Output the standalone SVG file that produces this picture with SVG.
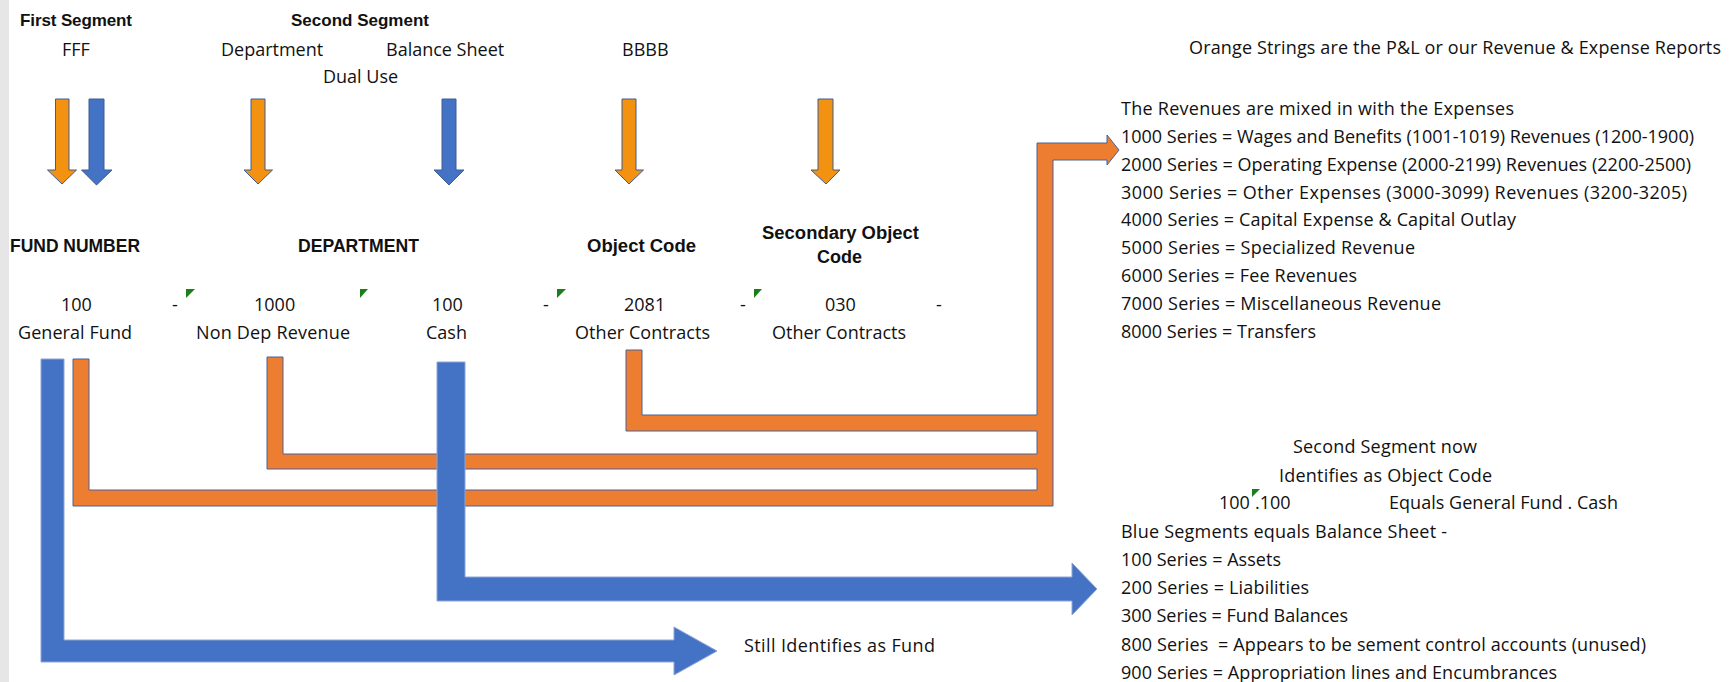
<svg xmlns="http://www.w3.org/2000/svg" width="1732" height="682" viewBox="0 0 1732 682">
  <style>
    .t { font-family: "Open Sans", "Liberation Sans", sans-serif; font-size: 18px; fill: #111; }
    .h { font-family: "Liberation Sans", Arial, sans-serif; font-weight: bold; font-size: 18px; fill: #111; }
    .hs { font-family: "Liberation Sans", Arial, sans-serif; font-weight: bold; font-size: 17px; fill: #111; }
    .pre { white-space: pre; }
    .down-o { fill: #F39110; stroke: #3F5C93; stroke-width: 1; }
    .down-b { fill: #4472C4; stroke: #3F5C93; stroke-width: 1; }
    .conn-o { fill: #ED7D31; stroke: #4A6394; stroke-width: 1; }
    .conn-b { fill: #4472C4; stroke: #8EA6D4; stroke-width: 1; }
    .flag { fill: #1A7F1A; }
  </style>

  <rect x="0" y="0" width="1732" height="682" fill="#ffffff"/>
  <rect x="0" y="0" width="9" height="682" fill="#e6e6e6"/>

  <!-- segment headings -->
  <g id="segment-headings">
    <text class="hs" x="20" y="26" textLength="112">First Segment</text>
    <text class="hs" x="291" y="26" textLength="138">Second Segment</text>
    <text class="t" x="62" y="56">FFF</text>
    <text class="t" x="221" y="56">Department</text>
    <text class="t" x="386" y="56">Balance Sheet</text>
    <text class="t" x="622" y="56">BBBB</text>
    <text class="t" x="323" y="83">Dual Use</text>
  </g>

  <!-- downward pointers -->
  <g id="pointers">
    <polygon class="down-o" points="55.5,99 69,99 69,170 76.5,170 62,184 47.5,170 55.5,170"/>
    <polygon class="down-b" points="89,99 104,99 104,170 112,170 96.5,185 81.5,170 89,170"/>
    <polygon class="down-o" points="251,99 265,99 265,170 272.5,170 258,184 244,170 251,170"/>
    <polygon class="down-b" points="442,99 456,99 456,170 464,170 449,185 434,170 442,170"/>
    <polygon class="down-o" points="622,99 636,99 636,170 643.5,170 629,184 615,170 622,170"/>
    <polygon class="down-o" points="818,99 833,99 833,170 840,170 826,184 811,170 818,170"/>
  </g>

  <!-- account string segments -->
  <g id="fund-number">
    <text class="h" x="10" y="252" textLength="130" lengthAdjust="spacingAndGlyphs">FUND NUMBER</text>
    <text class="t" x="61" y="311">100</text>
    <text class="t" x="18" y="339" textLength="114">General Fund</text>
  </g>
  <g id="department">
    <text class="h" x="298" y="252" textLength="121" lengthAdjust="spacingAndGlyphs">DEPARTMENT</text>
    <text class="t" x="254" y="311">1000</text>
    <text class="t" x="196" y="339" textLength="154">Non Dep Revenue</text>
  </g>
  <g id="balance-sheet">
    <text class="t" x="432" y="311">100</text>
    <text class="t" x="426" y="339">Cash</text>
  </g>
  <g id="object-code">
    <text class="h" x="587" y="252" textLength="109" lengthAdjust="spacingAndGlyphs">Object Code</text>
    <text class="t" x="624" y="311">2081</text>
    <text class="t" x="575" y="339" textLength="135">Other Contracts</text>
  </g>
  <g id="secondary-object-code">
    <text class="h" x="762" y="239" textLength="157" lengthAdjust="spacingAndGlyphs">Secondary Object</text>
    <text class="h" x="817" y="263">Code</text>
    <text class="t" x="825" y="311">030</text>
    <text class="t" x="772" y="339" textLength="134">Other Contracts</text>
  </g>
  <g id="separators">
    <text class="t" x="172" y="311">-</text>
    <text class="t" x="543" y="311">-</text>
    <text class="t" x="740" y="311">-</text>
    <text class="t" x="936" y="311">-</text>
    <polygon class="flag" points="186,289 195,289 186,298"/>
    <polygon class="flag" points="360,289 368,289 360,298"/>
    <polygon class="flag" points="557,289 566,289 557,298"/>
    <polygon class="flag" points="754,289 762,289 754,298"/>
  </g>

  <!-- routing lines -->
  <g id="connectors">
    <path class="conn-o" d="M73,359 H89 V490 H1037 V469 H267 V357 H283 V454 H1037 V431 H626 V350 H642 V415 H1037 V143 H1107 V135 L1119,150 L1107,165 V160 H1053 V506 H73 Z"/>
    <path class="conn-b" d="M41,359 H64 V640 H674 V627 L717,651 L674,675 V662 H41 Z"/>
    <path class="conn-b" d="M437,362 H465 V577 H1072 V563 L1097,589 L1072,615 V601 H437 Z"/>
  </g>

  <!-- revenue and expense notes -->
  <g id="pl-notes">
    <text class="t" x="1189" y="54" textLength="532">Orange Strings are the P&amp;L or our Revenue &amp; Expense Reports</text>
    <text class="t" x="1121" y="115" textLength="393">The Revenues are mixed in with the Expenses</text>
    <text class="t" x="1121" y="143" textLength="573">1000 Series = Wages and Benefits (1001-1019) Revenues (1200-1900)</text>
    <text class="t" x="1121" y="171" textLength="570">2000 Series = Operating Expense (2000-2199) Revenues (2200-2500)</text>
    <text class="t" x="1121" y="199" textLength="566">3000 Series = Other Expenses (3000-3099) Revenues (3200-3205)</text>
    <text class="t" x="1121" y="226" textLength="395">4000 Series = Capital Expense &amp; Capital Outlay</text>
    <text class="t" x="1121" y="254" textLength="294">5000 Series = Specialized Revenue</text>
    <text class="t" x="1121" y="282" textLength="236">6000 Series = Fee Revenues</text>
    <text class="t" x="1121" y="310" textLength="320">7000 Series = Miscellaneous Revenue</text>
    <text class="t" x="1121" y="338" textLength="195">8000 Series = Transfers</text>
  </g>

  <!-- balance sheet notes -->
  <g id="bs-notes">
    <text class="t" x="1293" y="453" textLength="184">Second Segment now</text>
    <text class="t" x="1279" y="482" textLength="213">Identifies as Object Code</text>
    <text class="t" x="1219" y="509">100</text>
    <polygon class="flag" points="1252,489 1260,489 1252,497"/>
    <text class="t" x="1255" y="509">.100</text>
    <text class="t" x="1389" y="509" textLength="229">Equals General Fund . Cash</text>
    <text class="t" x="1121" y="538" textLength="326">Blue Segments equals Balance Sheet -</text>
    <text class="t" x="1121" y="566" textLength="160">100 Series = Assets</text>
    <text class="t" x="1121" y="594" textLength="188">200 Series = Liabilities</text>
    <text class="t" x="1121" y="622" textLength="227">300 Series = Fund Balances</text>
    <text class="t pre" x="1121" y="651" textLength="525">800 Series  = Appears to be sement control accounts (unused)</text>
    <text class="t" x="1121" y="679" textLength="436">900 Series = Appropriation lines and Encumbrances</text>
  </g>

  <g id="fund-note">
    <text class="t" x="744" y="652" textLength="191">Still Identifies as Fund</text>
  </g>
</svg>
